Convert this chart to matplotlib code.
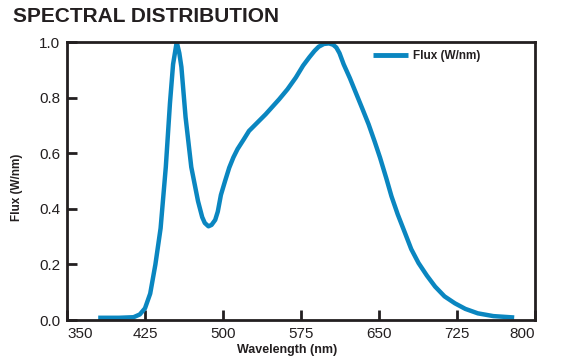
import matplotlib
matplotlib.use("Agg")
import matplotlib.pyplot as plt

wavelength = [380, 400, 414, 420, 425, 430, 435, 440, 445, 449, 452, 455.5, 458, 460, 464,
              469.5, 476, 480, 482.5, 486, 489, 492.5, 495, 498, 502, 506, 510, 514, 520,
              525, 533, 541, 554, 562, 570, 577, 583, 588, 592, 597, 602, 606, 609, 612,
              616, 622, 627, 634, 640, 646, 651, 657, 662, 668, 675, 681, 688, 696, 704,
              713, 723, 733, 745, 760, 780]
flux = [0.008, 0.008, 0.01, 0.02, 0.042, 0.095, 0.2, 0.33, 0.55, 0.78, 0.92, 1.0, 0.96, 0.91, 0.73,
        0.55, 0.427, 0.37, 0.349, 0.337, 0.342, 0.36, 0.39, 0.45, 0.5, 0.548, 0.585, 0.615, 0.65,
        0.68, 0.71, 0.74, 0.794, 0.83, 0.872, 0.915, 0.945, 0.968, 0.983, 0.993, 0.995, 0.99, 0.98, 0.96,
        0.92, 0.87, 0.824, 0.76, 0.704, 0.64, 0.584, 0.51, 0.445, 0.38, 0.313, 0.255, 0.205, 0.16, 0.12,
        0.085, 0.06, 0.04, 0.024, 0.014, 0.009]
x_ticks = [350, 425, 500, 575, 650, 725, 800]
y_ticks = [0.0, 0.2, 0.4, 0.6, 0.8, 1.0]

plt.rcParams['font.family'] = ['Liberation Sans', 'DejaVu Sans']
dark = '#231f20'
blue = '#0a86c0'

fig = plt.figure(figsize=(5.63, 3.62), dpi=100)
ax = fig.add_axes([67/563, 1-320/362, (535-67)/563, (320-42)/362])
ax.plot(wavelength, flux, color=blue, lw=3.2, solid_capstyle='butt', solid_joinstyle='round',
        label='Flux (W/nm)')
ax.set_xlim(350, 800)
ax.set_ylim(0, 1.0)
ax.set_xticks(x_ticks)
ax.set_yticks(y_ticks)
ax.set_yticklabels([f"{v:.1f}" for v in y_ticks])
ax.tick_params(axis='both', direction='in', length=7, width=2, color=dark,
               labelsize=11, labelcolor=dark)
ax.tick_params(axis='x', pad=5)
ax.tick_params(axis='y', pad=5)
labs = ax.get_xticklabels()
labs[0].set_ha('left')
labs[-1].set_ha('right')
for s in ax.spines.values():
    s.set_linewidth(2)
    s.set_color(dark)

fig.text(287/563, 1-350/362, 'Wavelength (nm)', ha='center', va='center',
         fontsize=9, fontweight='bold', color=dark)
fig.text(17/563, 1-187/362, 'Flux (W/nm)', ha='center', va='center', rotation=90,
         fontsize=8.5, fontweight='bold', color=dark)
fig.text(13/563, 1-17/362, 'SPECTRAL DISTRIBUTION', ha='left', va='center',
         fontsize=15, fontweight='bold', color=dark)

leg = ax.legend(loc='center left', bbox_to_anchor=(373/563, 1-56/362), bbox_transform=fig.transFigure,
                frameon=False, prop={'size': 8.5, 'weight': 'bold'}, handlelength=3.0,
                handletextpad=0.4, borderaxespad=0, borderpad=0)
for t in leg.get_texts():
    t.set_color(dark)
for l in leg.get_lines():
    l.set_linewidth(3.5)

fig.savefig('out.png', dpi=100)
